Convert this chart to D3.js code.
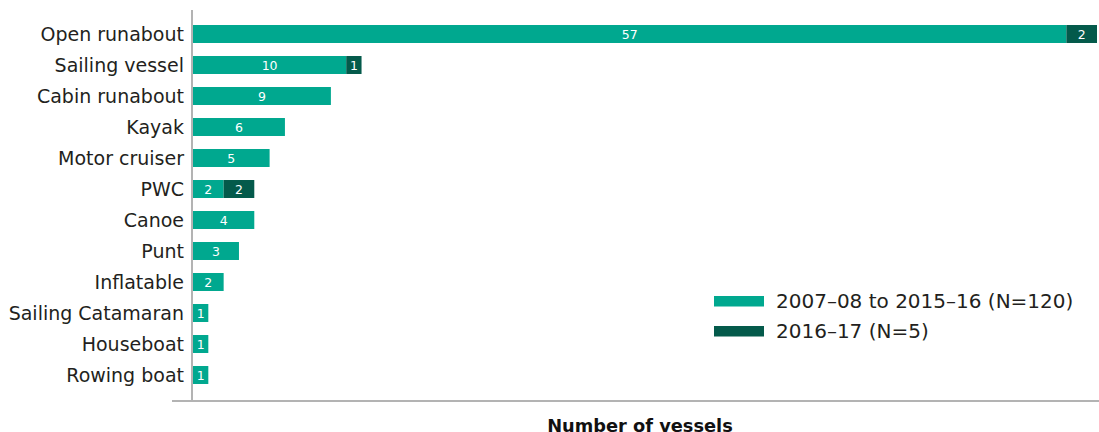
<!DOCTYPE html>
<html>
<head>
<meta charset="utf-8">
<script src="https://cdn.jsdelivr.net/npm/d3@7"></script>
<style>
  body { margin: 0; background: #fff; }
  text { font-family: "DejaVu Sans", sans-serif; }
</style>
</head>
<body>
<script>
// Vessel types and counts
const vessels = ['Open runabout', 'Sailing vessel', 'Cabin runabout', 'Kayak', 'Motor cruiser',
    'PWC', 'Canoe', 'Punt', 'Inflatable', 'Sailing Catamaran', 'Houseboat', 'Rowing boat'];
const earlier = [57, 10, 9, 6, 5, 2, 4, 3, 2, 1, 1, 1];
const latest = [2, 1, 0, 0, 0, 2, 0, 0, 0, 0, 0, 0];
const seriesNames = ['2007–08 to 2015–16 (N=120)', '2016–17 (N=5)'];
const colors = ['#00a88f', '#045a4b'];

const WIDTH = 1099, HEIGHT = 432;
const margin = {top: 18.5, left: 193, right: 2, bottom: 41.5};

const svg = d3.select('body').append('svg')
    .attr('width', WIDTH)
    .attr('height', HEIGHT);

const data = vessels.map((v, i) => ({vessel: v, a: earlier[i], b: latest[i]}));

const stack = d3.stack().keys(['a', 'b']);
const series = stack(data);

const xScale = d3.scaleLinear()
    .domain([0, 59])
    .range([margin.left, WIDTH - margin.right]);

const yScale = d3.scaleBand()
    .domain(vessels)
    .range([margin.top, HEIGHT - margin.bottom])
    .paddingInner(0.42)
    .paddingOuter(0.21);

// bars
const groups = svg.selectAll('.serie')
    .data(series)
    .enter().append('g')
        .attr('class', 'serie')
        .attr('fill', (d, i) => colors[i]);

groups.selectAll('rect')
    .data(d => d.filter(p => p[1] > p[0]))
    .enter().append('rect')
        .attr('x', d => xScale(d[0]))
        .attr('y', d => yScale(d.data.vessel))
        .attr('width', d => xScale(d[1]) - xScale(d[0]))
        .attr('height', yScale.bandwidth());

// value labels inside each segment
groups.selectAll('text')
    .data(d => d.filter(p => p[1] > p[0]))
    .enter().append('text')
        .attr('x', d => (xScale(d[0]) + xScale(d[1])) / 2)
        .attr('y', d => yScale(d.data.vessel) + yScale.bandwidth() / 2)
        .attr('dy', '0.36em')
        .attr('text-anchor', 'middle')
        .attr('fill', '#fff')
        .style('font-size', '12.5px')
        .text(d => d[1] - d[0]);

// axes lines
svg.append('line')
    .attr('x1', 192).attr('x2', 192)
    .attr('y1', 10).attr('y2', 401)
    .attr('stroke', '#b3b3b3').attr('stroke-width', 2);

svg.append('line')
    .attr('x1', 172).attr('x2', WIDTH)
    .attr('y1', 401).attr('y2', 401)
    .attr('stroke', '#b3b3b3').attr('stroke-width', 2);

// category labels
svg.selectAll('.cat')
    .data(vessels)
    .enter().append('text')
        .attr('class', 'cat')
        .attr('x', 184)
        .attr('y', d => yScale(d) + yScale.bandwidth() / 2)
        .attr('dy', '0.36em')
        .attr('text-anchor', 'end')
        .attr('fill', '#231f20')
        .style('font-size', '19px')
        .text(d => d);

// axis title
svg.append('text')
    .attr('x', 640)
    .attr('y', 432)
    .attr('text-anchor', 'middle')
    .attr('fill', '#111')
    .style('font-size', '17.8px')
    .style('font-weight', 'bold')
    .text('Number of vessels');

// legend
const legend = svg.selectAll('.legend')
    .data(seriesNames)
    .enter().append('g')
        .attr('class', 'legend')
        .attr('transform', (d, i) => `translate(714,${301 + i * 30})`);

legend.append('rect')
    .attr('x', 0)
    .attr('y', -5)
    .attr('width', 50)
    .attr('height', 10.5)
    .attr('fill', (d, i) => colors[i]);

legend.append('text')
    .attr('x', 62)
    .attr('y', 0)
    .attr('dy', '0.36em')
    .attr('fill', '#231f20')
    .style('font-size', '20px')
    .text(d => d);
</script>
</body>
</html>
